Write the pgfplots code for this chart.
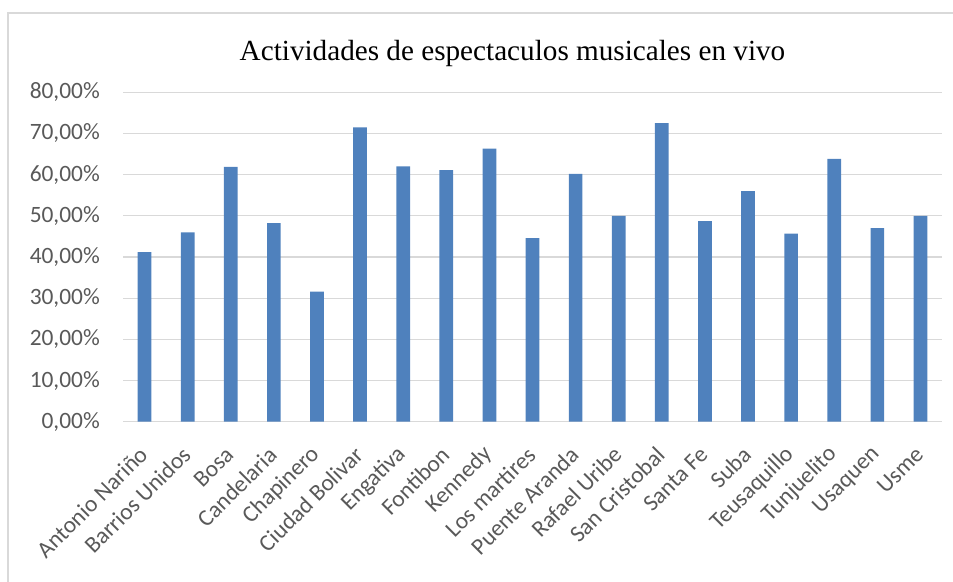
\documentclass[border=0pt]{standalone}
\usepackage{fontspec}
\setmainfont{Liberation Serif}
\newfontfamily\calibri{Carlito}
\usepackage{pgfplots}
\pgfplotsset{compat=1.18}
\definecolor{barblue}{HTML}{4F81BD}
\definecolor{gridgray}{HTML}{D9D9D9}
\definecolor{labelgray}{HTML}{595959}

\begin{document}
\begin{tikzpicture}[x=1bp,y=1bp]
\useasboundingbox (0,0) rectangle (953,582);
% chart area border
\draw[gridgray, line width=1.2bp] (8,-2) -- (8,569) -- (955,569);
% chart title
\node[font=\fontsize{29.3}{33}\selectfont, anchor=base] at (512.5,521)
  {Actividades de espectaculos musicales en vivo};
\begin{axis}[
  at={(123bp,160.3bp)}, anchor=south west, scale only axis,
  width=819bp, height=329.4bp,
  xmin=-0.5, xmax=18.5, ymin=0, ymax=80,
  ybar, bar width=13.7bp,
  axis x line*=bottom, axis y line*=left,
  x axis line style={gridgray, line width=1.2bp},
  y axis line style={draw=none},
  major tick length=0pt,
  ymajorgrids, grid style={gridgray, line width=1.2bp},
  ytick={0,10,...,80},
  yticklabels={{0,00\%},{10,00\%},{20,00\%},{30,00\%},{40,00\%},{50,00\%},{60,00\%},{70,00\%},{80,00\%}},
  yticklabel style={font=\calibri\fontsize{23.5}{26}\selectfont, text=labelgray, inner sep=0pt, anchor=east, xshift=-23bp},
  xtick={0,...,18},
  xticklabels={Antonio Nariño, Barrios Unidos, Bosa, Candelaria, Chapinero, Ciudad Bolivar, Engativa, Fontibon, Kennedy, Los martires, Puente Aranda, Rafael Uribe, San Cristobal, Santa Fe, Suba, Teusaquillo, Tunjuelito, Usaquen, Usme},
  xticklabel style={font=\calibri\fontsize{23.5}{26}\selectfont, text=labelgray, inner sep=0pt, rotate=45, anchor=east, xshift=-21.3bp, yshift=-19.8bp},
]
\addplot[fill=barblue, draw=none] coordinates {
  (0,41.2) (1,46.0) (2,61.9) (3,48.2) (4,31.6) (5,71.5) (6,62.0) (7,61.1)
  (8,66.3) (9,44.6) (10,60.2) (11,50.0) (12,72.5) (13,48.7) (14,56.0)
  (15,45.7) (16,63.8) (17,47.0) (18,50.0)
};
\end{axis}
\end{tikzpicture}
\end{document}
